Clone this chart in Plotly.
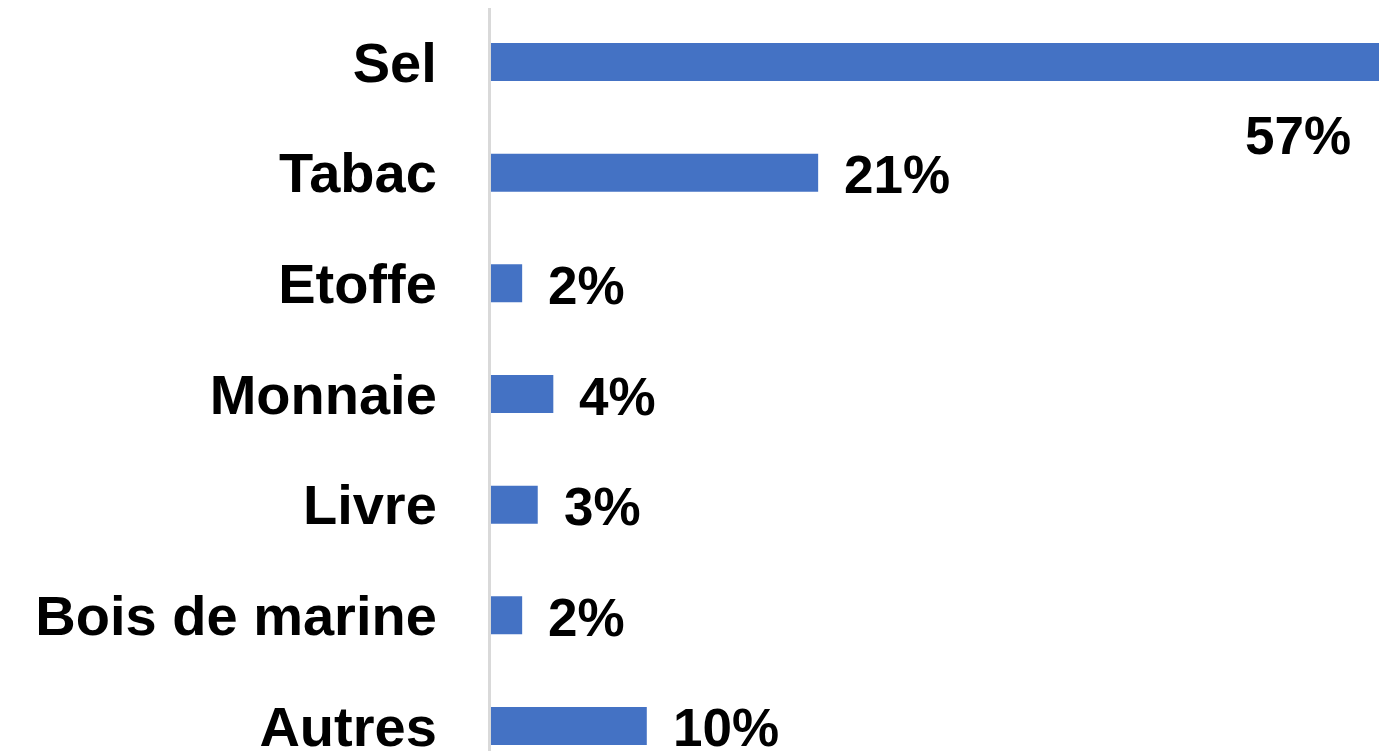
import plotly.graph_objects as go

categories = ["Sel", "Tabac", "Etoffe", "Monnaie", "Livre", "Bois de marine", "Autres"]
values = [57, 21, 2, 4, 3, 2, 10]
labels = ["57%", "21%", "2%", "4%", "3%", "2%", "10%"]

FONT = "Liberation Sans, Arial, sans-serif"

fig = go.Figure()
fig.add_trace(go.Bar(
    x=values, y=categories, orientation="h",
    marker=dict(color="#4472C4", line=dict(width=0)),
    hoverinfo="skip",
))

annotations = []
for c, v, t in zip(categories, values, labels):
    if v == max(values):
        annotations.append(dict(x=v, y=c, xref="x", yref="y", text=f"<b>{t}</b>",
                                showarrow=False, xanchor="right", yanchor="middle",
                                xshift=-26, yshift=-73,
                                font=dict(family=FONT, size=53, color="black")))
    else:
        annotations.append(dict(x=v, y=c, xref="x", yref="y", text=f"<b>{t}</b>",
                                showarrow=False, xanchor="left", yanchor="middle",
                                xshift=24, yshift=-2,
                                font=dict(family=FONT, size=53, color="black")))

fig.update_layout(
    width=1381, height=743,
    margin=dict(l=483, r=10, t=0, b=0),
    paper_bgcolor="white", plot_bgcolor="white",
    bargap=0.657,
    showlegend=False,
    annotations=annotations,
    xaxis=dict(range=[0, 57], visible=False, showgrid=False, zeroline=False),
    yaxis=dict(
        type="category",
        categoryorder="array", categoryarray=categories,
        range=[6.226, -0.488],
        showline=True, linecolor="#d9d9d9", linewidth=3,
        showgrid=False, zeroline=False, ticks="",
        ticklabelstandoff=40,
        automargin=False,
        tickfont=dict(family=FONT, size=56, color="black", weight="bold"),
    ),
)

fig.write_html("out.html")
